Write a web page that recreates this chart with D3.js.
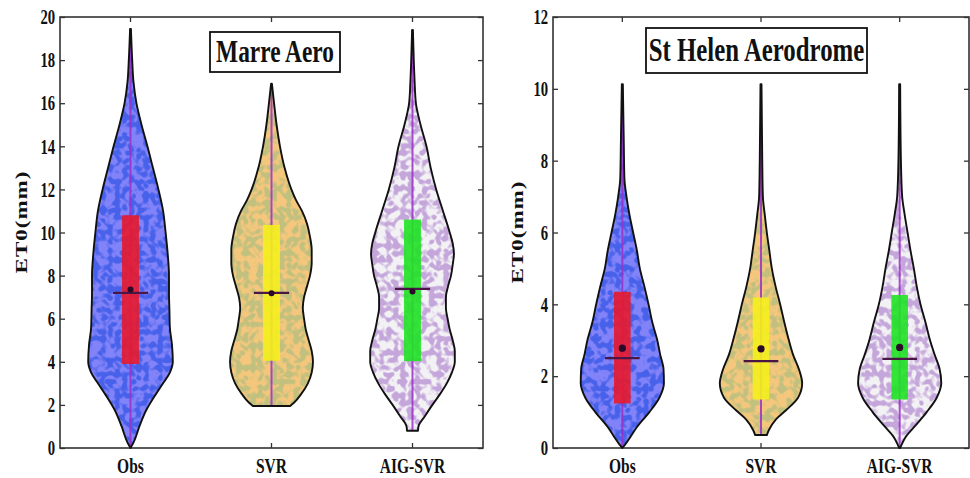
<!DOCTYPE html>
<html><head><meta charset="utf-8">
<script src="https://cdn.jsdelivr.net/npm/d3@7/dist/d3.min.js"></script>
<style>html,body{margin:0;padding:0;background:#fff;}svg{display:block;}</style>
</head><body>
<svg id="chart" width="970" height="478"></svg>
<script>
// ---------------- DATA ----------------
const categories = ["Obs", "SVR", "AIG-SVR"];

// Marre Aero
const marreTicks = [0, 2, 4, 6, 8, 10, 12, 14, 16, 18, 20];
const marreMin = [0, 1.95, 0.8];
const marreMax = [19.45, 16.9, 19.4];
const marreQ1 = [3.9, 4.05, 4.03];
const marreQ3 = [10.8, 10.35, 10.6];
const marreMedian = [7.2, 7.2, 7.38];
const marreMean = [7.36, 7.18, 7.26];
// violin density profiles: [ET0 value, relative density]
const marreDensityObs = [[0,0],[0.25,0.07],[1,0.21],[1.75,0.37],[2.5,0.6],[3,0.77],[3.5,0.93],[4,1],[4.8,0.98],[5.6,0.93],[6.4,0.92],[7.2,0.91],[8,0.91],[9,0.88],[10,0.83],[11,0.77],[12,0.66],[13,0.53],[14,0.4],[15,0.26],[16,0.14],[17,0.07],[18,0.04],[19.45,0.01]];
const marreDensitySVR = [[1.95,0.44],[2.1,0.53],[2.5,0.7],[3,0.86],[3.5,0.95],[4,0.98],[4.5,0.95],[5,0.88],[5.5,0.81],[6,0.77],[6.5,0.74],[7,0.77],[7.5,0.84],[8,0.91],[8.6,0.95],[9.2,0.95],[9.8,0.91],[10.4,0.84],[11,0.72],[11.5,0.58],[12,0.47],[13,0.31],[14,0.2],[15,0.12],[16,0.06],[16.9,0.01]];
const marreDensityAIG = [[0.8,0.13],[1,0.14],[1.5,0.3],[2,0.47],[2.5,0.65],[3,0.81],[3.5,0.93],[4,1],[4.5,1],[5,0.95],[5.5,0.88],[6,0.83],[6.5,0.79],[7,0.79],[7.5,0.84],[8,0.91],[8.5,0.95],[9,0.98],[9.5,0.95],[10,0.88],[11,0.72],[12,0.56],[13,0.43],[14,0.33],[15,0.19],[16,0.08],[17,0.05],[18,0.03],[19.4,0.01]];

// St Helen Aerodrome
const helenTicks = [0, 2, 4, 6, 8, 10, 12];
const helenMin = [0, 0.36, 0];
const helenMax = [10.13, 10.13, 10.13];
const helenQ1 = [1.24, 1.35, 1.35];
const helenQ3 = [4.35, 4.19, 4.26];
const helenMedian = [2.5, 2.42, 2.48];
const helenMean = [2.78, 2.76, 2.8];
const helenDensityObs = [[0,0],[0.1,0.07],[0.3,0.19],[0.6,0.36],[1,0.65],[1.4,0.89],[1.8,1],[2.2,0.99],[2.6,0.91],[3,0.84],[3.5,0.72],[4,0.63],[4.5,0.53],[5,0.42],[5.5,0.35],[6,0.26],[6.5,0.17],[7,0.1],[7.5,0.05],[8.5,0.035],[10.13,0.012]];
const helenDensitySVR = [[0.36,0.14],[0.5,0.19],[0.8,0.36],[1.05,0.6],[1.4,0.89],[1.8,0.99],[2.2,0.91],[2.6,0.77],[3,0.67],[3.5,0.56],[4,0.46],[4.5,0.35],[5,0.26],[5.5,0.2],[6,0.14],[6.5,0.09],[7,0.045],[8,0.03],[10.13,0.012]];
const helenDensityAIG = [[0,0.012],[0.15,0.07],[0.3,0.14],[0.6,0.36],[1,0.65],[1.4,0.89],[1.8,1],[2.2,0.96],[2.6,0.84],[3,0.73],[3.5,0.62],[4,0.5],[4.5,0.41],[5,0.34],[5.5,0.26],[6,0.19],[6.5,0.12],[7,0.06],[8,0.03],[10.13,0.012]];

// ---------------- STYLE ----------------
const violinBase = ["#8283f8", "#f4c77c", "#f2f1f4"];
const violinDots = ["#2c52e4", "#abbd80", "#b084cf"];
const boxColors = ["#e8192c", "#f5f01c", "#1fe324"];
const FONT = "'Liberation Serif','Times New Roman',serif";
const SQ = 0.7; // horizontal text condensation

const W = 970, H = 478;
const svg = d3.select("#chart");
const defs = svg.append("defs");

function makeFilter(id, color, thresh, seed) {
  const c = d3.rgb(color);
  const f = defs.append("filter").attr("id", id)
    .attr("filterUnits", "userSpaceOnUse")
    .attr("x", 0).attr("y", 0).attr("width", W).attr("height", H)
    .attr("color-interpolation-filters", "sRGB");
  const k = 8;
  const merge = [];
  [0, 1, 2].forEach(j => {
    f.append("feTurbulence").attr("type", "fractalNoise")
      .attr("baseFrequency", 0.14).attr("numOctaves", 1).attr("seed", seed + j * 11).attr("result", "n" + j);
    f.append("feColorMatrix").attr("in", "n" + j).attr("type", "matrix")
      .attr("values", `0 0 0 0 ${c.r/255} 0 0 0 0 ${c.g/255} 0 0 0 0 ${c.b/255} ${k} 0 0 0 ${-k*thresh}`)
      .attr("result", "c" + j);
    merge.push("c" + j);
  });
  const m = f.append("feMerge").attr("result", "m");
  merge.forEach(r => m.append("feMergeNode").attr("in", r));
  f.append("feComposite").attr("in", "m").attr("in2", "SourceAlpha").attr("operator", "in");
}
violinDots.forEach((c, i) => makeFilter("dots" + i, c, 0.53, 3 + i * 7));

function panel(cfg) {
  const y = d3.scaleLinear().domain(cfg.domain).range([cfg.y1, cfg.y0]);
  const x = d3.scaleBand().domain(categories).range([cfg.x0, cfg.x1]).paddingInner(0).paddingOuter(0);
  const bw = x.bandwidth();
  const g = svg.append("g");

  // frame
  g.append("rect").attr("x", cfg.x0).attr("y", cfg.y0)
    .attr("width", cfg.x1 - cfg.x0).attr("height", cfg.y1 - cfg.y0)
    .attr("fill", "none").attr("stroke", "#333").attr("stroke-width", 1.6);

  const styleAxis = (sel, size) => {
    sel.select(".domain").remove();
    sel.selectAll(".tick line").attr("stroke", "#333").attr("stroke-width", 1.3);
    sel.selectAll(".tick text").attr("fill", "#111")
      .style("font-family", FONT).style("font-weight", "bold").style("font-size", size + "px");
  };

  const yl = g.append("g").attr("transform", `translate(${cfg.x0},0)`)
    .call(d3.axisLeft(y).tickValues(cfg.ticks).tickSizeInner(-5).tickSizeOuter(0).tickPadding(7));
  styleAxis(yl, 21);
  yl.selectAll(".tick text").attr("transform", `scale(${SQ},1)`);

  const yr = g.append("g").attr("transform", `translate(${cfg.x1},0)`)
    .call(d3.axisRight(y).tickValues(cfg.ticks).tickSizeInner(-5).tickSizeOuter(0).tickFormat(""));
  styleAxis(yr, 21);

  const xb = g.append("g").attr("transform", `translate(0,${cfg.y1})`)
    .call(d3.axisBottom(x).tickSizeInner(-5).tickSizeOuter(0).tickPadding(10.5));
  styleAxis(xb, 21);
  xb.selectAll(".tick text").attr("transform", `scale(${SQ + 0.04},1)`);

  const xt = g.append("g").attr("transform", `translate(0,${cfg.y0})`)
    .call(d3.axisTop(x).tickSizeInner(-5).tickSizeOuter(0).tickFormat(""));
  styleAxis(xt, 21);

  // violins
  const wScale = 0.3 * bw;
  categories.forEach((cat, i) => {
    const cx = x(cat) + bw / 2;
    const area = d3.area().curve(d3.curveMonotoneY)
      .y(d => y(d[0]))
      .x0(d => cx - d[1] * wScale)
      .x1(d => cx + d[1] * wScale);
    const dpath = area(cfg.density[i]);
    g.append("path").attr("d", dpath).attr("fill", violinBase[i]);
    g.append("path").attr("d", dpath).attr("fill", "#000").attr("filter", `url(#dots${i})`).attr("opacity", 0.68);
    // whisker / data line
    g.append("line").attr("x1", cx).attr("x2", cx)
      .attr("y1", y(cfg.min[i])).attr("y2", y(cfg.max[i]))
      .attr("stroke", "#9b30c8").attr("stroke-width", 2).attr("opacity", 0.85);
    // box
    g.append("rect").attr("x", cx - 0.06 * bw).attr("width", 0.12 * bw)
      .attr("y", y(cfg.q3[i])).attr("height", y(cfg.q1[i]) - y(cfg.q3[i]))
      .attr("fill", boxColors[i]).attr("opacity", 0.9);
    // outline
    g.append("path").attr("d", dpath).attr("fill", "none")
      .attr("stroke", "#111").attr("stroke-width", 1.9).attr("stroke-linejoin", "round");
    // median
    g.append("line").attr("x1", cx - 0.125 * bw).attr("x2", cx + 0.125 * bw)
      .attr("y1", y(cfg.median[i])).attr("y2", y(cfg.median[i]))
      .attr("stroke", "#4a1646").attr("stroke-width", 2.2);
    // mean
    g.append("circle").attr("cx", cx).attr("cy", y(cfg.mean[i])).attr("r", cfg.dotR)
      .attr("fill", "#2a0a28");
  });

  // y label
  g.append("text")
    .attr("transform", `translate(${cfg.labelX},${cfg.labelY}) rotate(-90) scale(1,${SQ})`)
    .attr("text-anchor", "middle").attr("dy", "0.35em")
    .style("font-family", FONT).style("font-weight", "bold").style("font-size", "23px")
    .style("letter-spacing", "1px")
    .attr("fill", "#111").text("ET0(mm)");

  // title box
  g.append("rect").attr("x", cfg.tx).attr("y", cfg.ty).attr("width", cfg.tw).attr("height", cfg.th)
    .attr("fill", "#fff").attr("stroke", "#111").attr("stroke-width", 1.8);
  g.append("text")
    .attr("transform", `translate(${cfg.tx + cfg.tw / 2},${cfg.tBase}) scale(${SQ + 0.03},1)`)
    .attr("text-anchor", "middle")
    .style("font-family", FONT).style("font-weight", "bold").style("font-size", cfg.tSize + "px")
    .attr("fill", "#111").text(cfg.title);
}

panel({
  domain: [0, 20], ticks: marreTicks, x0: 60, x1: 483, y0: 17, y1: 448,
  min: marreMin, max: marreMax, q1: marreQ1, q3: marreQ3, median: marreMedian, mean: marreMean,
  density: [marreDensityObs, marreDensitySVR, marreDensityAIG], dotR: 3,
  labelX: 21, labelY: 222,
  title: "Marre Aero", tx: 210, ty: 32, tw: 130, th: 40, tBase: 62, tSize: 32
});
panel({
  domain: [0, 12], ticks: helenTicks, x0: 553, x1: 969, y0: 17, y1: 448,
  min: helenMin, max: helenMax, q1: helenQ1, q3: helenQ3, median: helenMedian, mean: helenMean,
  density: [helenDensityObs, helenDensitySVR, helenDensityAIG], dotR: 3.6,
  labelX: 517, labelY: 232,
  title: "St Helen Aerodrome", tx: 646, ty: 28, tw: 221, th: 45, tBase: 61, tSize: 34
});
</script>
</body></html>
